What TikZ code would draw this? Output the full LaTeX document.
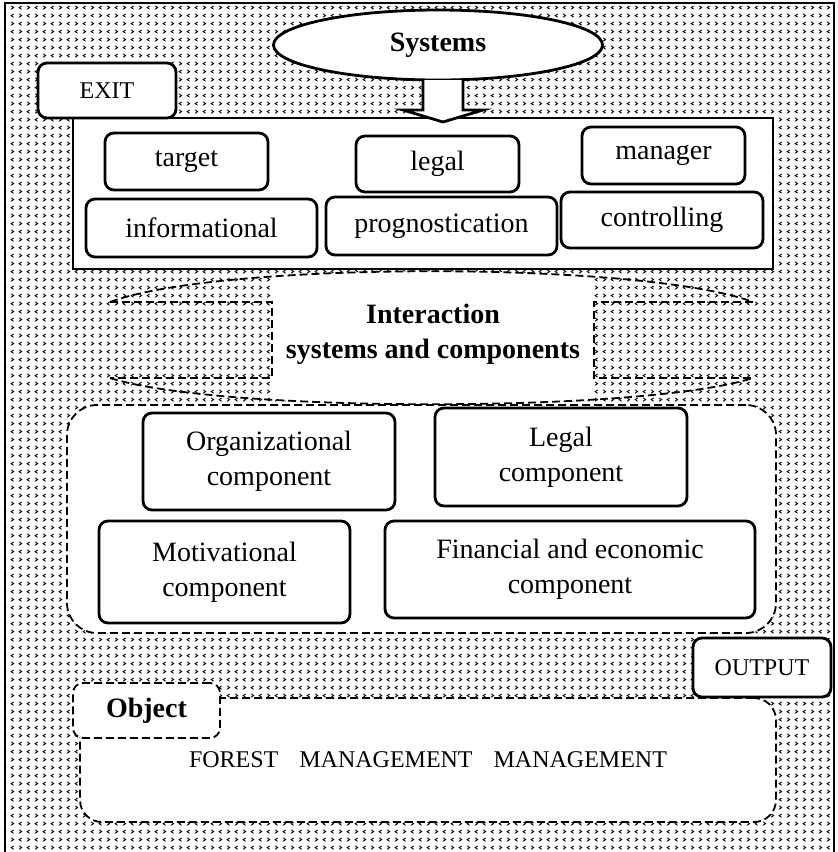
\documentclass[tikz,border=0pt]{standalone}
\usepackage{fontspec}
\setmainfont{Liberation Serif}
\usetikzlibrary{shapes.geometric,patterns}

\newcommand{\boxfont}{\fontsize{14}{17.5}\selectfont}
\newcommand{\tagfont}{\fontsize{12}{14}\selectfont}

% tiny chevron marks for the background
\pgfdeclarepatternformonly{chevrons}{\pgfqpoint{-0.5pt}{-0.5pt}}{\pgfqpoint{8.5pt}{8.5pt}}{\pgfqpoint{8pt}{8pt}}{%
  \pgfsetlinewidth{0.45pt}%
  \pgfpathmoveto{\pgfqpoint{2.8pt}{7.0pt}}\pgfpathlineto{\pgfqpoint{1.6pt}{6.2pt}}\pgfpathlineto{\pgfqpoint{2.8pt}{5.4pt}}%
  \pgfpathmoveto{\pgfqpoint{5.6pt}{7.0pt}}\pgfpathlineto{\pgfqpoint{6.8pt}{6.2pt}}\pgfpathlineto{\pgfqpoint{5.6pt}{5.4pt}}%
  \pgfpathmoveto{\pgfqpoint{1.6pt}{3.0pt}}\pgfpathlineto{\pgfqpoint{2.8pt}{2.2pt}}\pgfpathlineto{\pgfqpoint{1.6pt}{1.4pt}}%
  \pgfpathmoveto{\pgfqpoint{6.8pt}{3.0pt}}\pgfpathlineto{\pgfqpoint{5.6pt}{2.2pt}}\pgfpathlineto{\pgfqpoint{6.8pt}{1.4pt}}%
  \pgfusepath{stroke}}

\tikzset{
  dashline/.style={line width=0.9pt, dash pattern=on 4pt off 2pt},
  solidbox/.style={draw, line width=1.4pt, rounded corners=4.5pt, fill=white, align=center, inner sep=0pt, font=\boxfont},
  tagbox/.style={solidbox, font=\tagfont},
  dashbox/.style={draw, dashline, fill=white, inner sep=0pt, align=center},
}

\begin{document}
\begin{tikzpicture}[x=0.5pt,y=-0.5pt]
  \useasboundingbox (0,0) rectangle (837,852);
  % background
  \fill[pattern=chevrons] (5,3) rectangle (834,870);
  \draw[line width=1.2pt] (5,3) rectangle (834,870);

  % systems block
  \node[draw, line width=1.4pt, fill=white, minimum width=350pt, minimum height=75.5pt, inner sep=0pt] (sysbox) at (423,193.5) {};
  \node[solidbox, minimum width=81.5pt, minimum height=28.5pt] (target) at (186.5,161.5) {target};
  \node[solidbox, minimum width=81.5pt, minimum height=28pt] (legal) at (437.5,164) {legal};
  \node[solidbox, minimum width=81.5pt, minimum height=28.5pt] (manager) at (663.5,155.5) {manager};
  \node[solidbox, minimum width=115.5pt, minimum height=29pt] (info) at (201.5,228) {informational};
  \node[solidbox, minimum width=115.5pt, minimum height=29pt] (progn) at (441.5,226) {prognostication};
  \node[solidbox, minimum width=101pt, minimum height=28pt] (control) at (662,220) {controlling};

  \node[draw, ellipse, line width=1.4pt, fill=white, minimum width=164.5pt, minimum height=35pt, font=\boxfont\bfseries] (sys) at (438,45) {Systems};
  \node[tagbox, minimum width=69pt, minimum height=27.5pt] (exit) at (107,90.5) {EXIT};
  \coordinate (tip) at (443,122);
  \draw[line width=1.4pt, fill=white] ([shift={(-20,-42)}]tip) -- ([shift={(-20,-12)}]tip) -- ([shift={(-40,-12)}]tip) -- (tip)
    -- ([shift={(40,-12)}]tip) -- ([shift={(20,-12)}]tip) -- ([shift={(20,-42)}]tip);

  % interaction ribbon
  \begin{scope}
    \clip (272,250) rectangle (594,420);
    \fill[white] (110,302) .. controls (220,261) and (643,261) .. (753,302) -- (753,378)
      .. controls (643,413) and (220,413) .. (110,378) -- cycle;
  \end{scope}
  \draw[dashline] (110,302) .. controls (220,261) and (643,261) .. (753,302);
  \draw[dashline] (110,378) .. controls (220,413) and (643,413) .. (753,378);
  \draw[dashline] (110,302) -| (272,378) -- (110,378);
  \draw[dashline] (753,302) -| (594,378) -- (753,378);
  \node[font=\boxfont\bfseries, align=center] (inter) at (433,334) {Interaction\\systems and components};

  % components
  \node[dashbox, rounded corners=15pt, minimum width=354.5pt, minimum height=114pt] (compbox) at (421.5,519) {};
  \node[solidbox, minimum width=126pt, minimum height=48.5pt] (orgc) at (269,461.5) {Organizational\\component};
  \node[solidbox, minimum width=126pt, minimum height=49pt] (legc) at (561,457) {Legal\\component};
  \node[solidbox, minimum width=125.5pt, minimum height=51pt] (motc) at (224.5,572) {Motivational\\component};
  \node[solidbox, minimum width=185pt, minimum height=48.5pt] (finc) at (570,569.5) {Financial and economic\\component};

  % object
  \node[dashbox, rounded corners=11pt, minimum width=348pt, minimum height=62pt, font=\tagfont] (objbox) at (428,760)
    {FOREST\hspace{10.5pt}MANAGEMENT\hspace{10.5pt}MANAGEMENT};
  \node[dashbox, rounded corners=5pt, minimum width=73.5pt, minimum height=27.5pt, font=\boxfont\bfseries] (objtag) at (146.5,710.5) {Object};
  \node[tagbox, minimum width=69pt, minimum height=29.5pt] (output) at (762,667.5) {OUTPUT};
\end{tikzpicture}
\end{document}
